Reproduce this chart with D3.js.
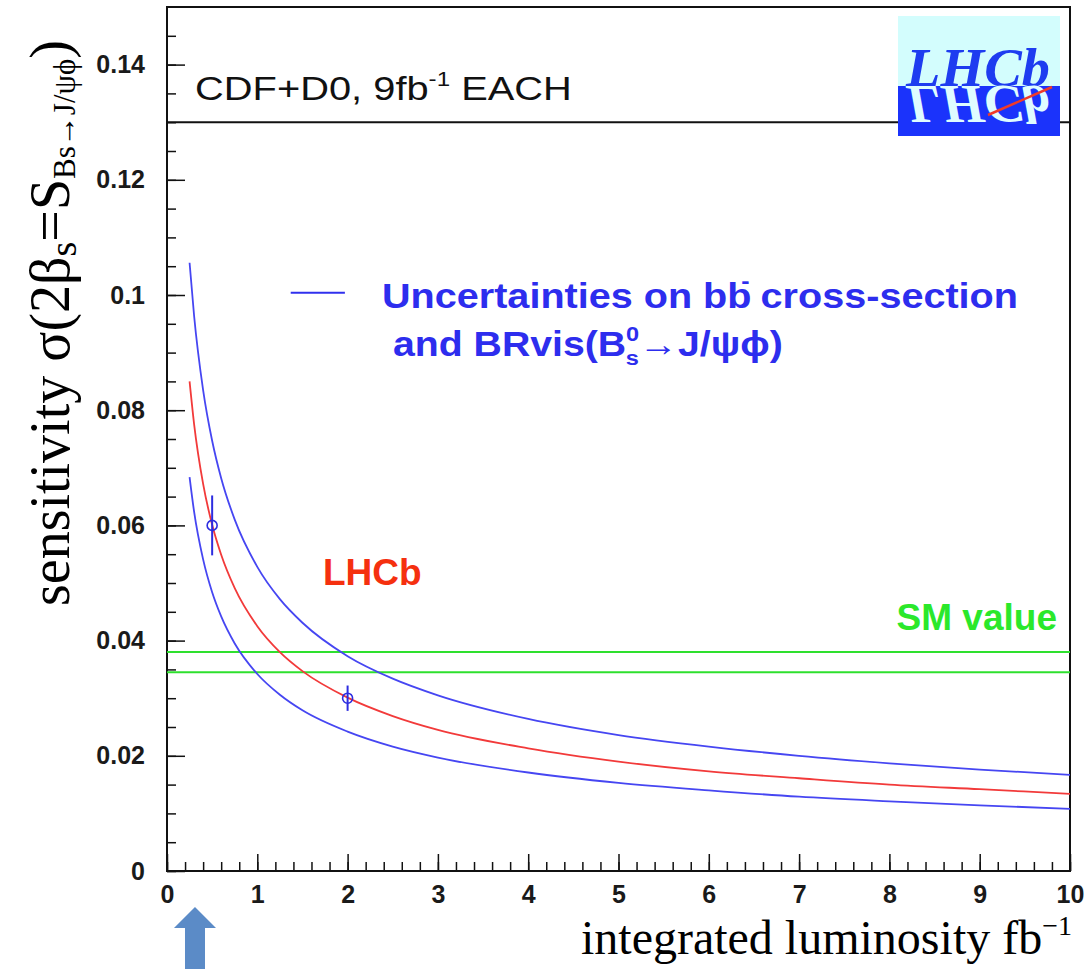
<!DOCTYPE html>
<html>
<head>
<meta charset="utf-8">
<script src="https://cdn.jsdelivr.net/npm/d3@7"></script>
<style>
  body { margin: 0; background: #fff; }
  svg { display: block; }
</style>
</head>
<body>
<div id="chart"></div>
<script>
// values
const lumi = [0.25, 0.3, 0.4, 0.5, 0.6, 0.75, 1, 1.25, 1.5, 2, 2.5, 3, 4, 5, 6, 7, 8, 9, 10];
const lhcbSens = [0.0850, 0.0776, 0.0672, 0.0601, 0.0549, 0.0491, 0.0425, 0.0380, 0.0347, 0.0301, 0.0269, 0.0245, 0.0213, 0.0190, 0.0173, 0.0161, 0.0150, 0.0142, 0.0134];
const upperSens = [0.1056, 0.0964, 0.0835, 0.0747, 0.0682, 0.0610, 0.0528, 0.0472, 0.0431, 0.0373, 0.0334, 0.0305, 0.0264, 0.0236, 0.0216, 0.0200, 0.0187, 0.0176, 0.0167];
const lowerSens = [0.0684, 0.0624, 0.0541, 0.0484, 0.0442, 0.0395, 0.0342, 0.0306, 0.0279, 0.0242, 0.0216, 0.0197, 0.0171, 0.0153, 0.0140, 0.0129, 0.0121, 0.0114, 0.0108];

const markers = [
  { x: 0.5, y: 0.060, err: 0.0052 },
  { x: 2, y: 0.030, err: 0.0022 },
];
const smValues = [0.038, 0.0345];
const cdfValue = 0.13;
const arrowX = 0.31;

const xTicks = [0, 1, 2, 3, 4, 5, 6, 7, 8, 9, 10];
const yTicks = [0, 0.02, 0.04, 0.06, 0.08, 0.1, 0.12, 0.14];

const width = 1090;
const height = 969;
const margin = { top: 7, right: 20, bottom: 98, left: 167 };
const innerWidth = width - margin.left - margin.right;
const innerHeight = height - margin.top - margin.bottom;

const svg = d3.select("#chart").append("svg")
  .attr("width", width)
  .attr("height", height);

const g = svg.append("g")
  .attr("transform", `translate(${margin.left},${margin.top})`);

const x = d3.scaleLinear().domain([0, 10]).range([0, innerWidth]);
const y = d3.scaleLinear().domain([0, 0.15]).range([innerHeight, 0]);

const sans = "'Liberation Sans', Arial, sans-serif";
const serif = "'Liberation Serif', 'Times New Roman', serif";

// the scanned original is stretched sideways, so squeeze/stretch text to a width
function fitText(t, x0, baseline, w) {
  const bw = t.node().getBBox().width;
  t.attr("transform", `translate(${x0},${baseline}) scale(${w / bw},1)`);
}

// minor ticks first
g.append("g")
  .call(d3.axisLeft(y).tickValues(d3.range(0, 0.1451, 0.005)).tickSize(-9).tickFormat(""))
  .call((a) => a.select(".domain").remove())
  .call((a) => a.selectAll("text").remove())
  .call((a) => a.selectAll("line").attr("stroke", "#111").attr("stroke-width", 1.5));

g.append("g")
  .attr("transform", `translate(0,${innerHeight})`)
  .call(d3.axisBottom(x).tickValues(d3.range(0, 10.01, 0.2)).tickSize(-9).tickFormat(""))
  .call((a) => a.select(".domain").remove())
  .call((a) => a.selectAll("text").remove())
  .call((a) => a.selectAll("line").attr("stroke", "#111").attr("stroke-width", 1.5));

// major ticks + labels
g.append("g")
  .call(d3.axisLeft(y).tickValues(yTicks).tickSize(-18).tickPadding(22)
    .tickFormat((d) => (d === 0 ? "0" : String(+d.toFixed(2)))))
  .call((a) => a.select(".domain").remove())
  .call((a) => a.selectAll("line").attr("stroke", "#111").attr("stroke-width", 1.5))
  .call((a) => a.selectAll("text")
    .attr("font-family", sans).attr("font-weight", "bold")
    .attr("font-size", 25).attr("fill", "#1a1a1a"));

g.append("g")
  .attr("transform", `translate(0,${innerHeight})`)
  .call(d3.axisBottom(x).tickValues(xTicks).tickSize(-17).tickPadding(14))
  .call((a) => a.select(".domain").remove())
  .call((a) => a.selectAll("line").attr("stroke", "#111").attr("stroke-width", 1.5))
  .call((a) => a.selectAll("text")
    .attr("font-family", sans).attr("font-weight", "bold")
    .attr("font-size", 25).attr("fill", "#1a1a1a"));

// frame
g.append("rect")
  .attr("width", innerWidth)
  .attr("height", innerHeight)
  .attr("fill", "none")
  .attr("stroke", "#111")
  .attr("stroke-width", 2);

// CDF+D0 line
g.append("line")
  .attr("x1", 0).attr("x2", innerWidth)
  .attr("y1", y(cdfValue)).attr("y2", y(cdfValue))
  .attr("stroke", "#111").attr("stroke-width", 2);

const cdf = svg.append("text")
  .attr("font-family", sans)
  .attr("font-size", 33)
  .attr("fill", "#111")
  .call((t) => {
    t.append("tspan").text("CDF+D0, 9fb");
    t.append("tspan").attr("font-size", 20).attr("dy", -14).text("-1");
    t.append("tspan").attr("dy", 14).text(" EACH");
  });
fitText(cdf, 195, 100, 377);

// SM value band lines
g.selectAll("line.sm")
  .data(smValues)
  .join("line")
  .attr("class", "sm")
  .attr("x1", 0).attr("x2", innerWidth)
  .attr("y1", (d) => y(d)).attr("y2", (d) => y(d))
  .attr("stroke", "#2ee02e").attr("stroke-width", 2);

// curves
const series = [
  { name: "upper", values: upperSens, color: "#4646f2" },
  { name: "lower", values: lowerSens, color: "#4646f2" },
  { name: "lhcb", values: lhcbSens, color: "#f23a3a" },
];

const line = d3.line()
  .x((d) => x(d[0]))
  .y((d) => y(d[1]))
  .curve(d3.curveMonotoneX);

g.selectAll("path.series")
  .data(series)
  .join("path")
  .attr("class", "series")
  .attr("fill", "none")
  .attr("stroke", (d) => d.color)
  .attr("stroke-width", 1.8)
  .attr("d", (d) => line(lumi.map((l, i) => [l, d.values[i]])));

// markers with error bars
const mk = g.selectAll("g.marker")
  .data(markers)
  .join("g")
  .attr("class", "marker");

mk.append("line")
  .attr("x1", (d) => x(d.x)).attr("x2", (d) => x(d.x))
  .attr("y1", (d) => y(d.y + d.err)).attr("y2", (d) => y(d.y - d.err))
  .attr("stroke", "#2d2de0").attr("stroke-width", 2);

mk.append("circle")
  .attr("cx", (d) => x(d.x)).attr("cy", (d) => y(d.y))
  .attr("r", 5)
  .attr("fill", "none")
  .attr("stroke", "#2d2de0")
  .attr("stroke-width", 1.6);

// legend
g.append("line")
  .attr("x1", x(1.37)).attr("x2", x(1.97))
  .attr("y1", y(0.1004)).attr("y2", y(0.1004))
  .attr("stroke", "#3030ee").attr("stroke-width", 2);

const leg1 = svg.append("text")
  .attr("font-family", sans)
  .attr("font-weight", "bold")
  .attr("font-size", 35)
  .attr("fill", "#2d2dee")
  .call((t) => {
    t.append("tspan").text("Uncertainties on bb");
    t.append("tspan").attr("font-size", 22).attr("dx", -9).attr("dy", -20).text("-");
    t.append("tspan").attr("dy", 20).text(" cross-section");
  });
fitText(leg1, 382, 308, 636);

const leg2 = svg.append("text")
  .attr("font-family", sans)
  .attr("font-weight", "bold")
  .attr("font-size", 35)
  .attr("fill", "#2d2dee")
  .call((t) => {
    t.append("tspan").text("and BRvis(B");
    t.append("tspan").attr("font-size", 21).attr("dy", -15).text("0");
    t.append("tspan").attr("font-size", 21).attr("dx", -12).attr("dy", 24).text("s");
    t.append("tspan").attr("dy", -9).text("\u2192J/\u03c8\u03d5)");
  });
fitText(leg2, 393, 356, 390);

svg.append("text")
  .attr("x", 323)
  .attr("y", 585)
  .attr("font-family", sans)
  .attr("font-weight", "bold")
  .attr("font-size", 37)
  .attr("fill", "#f5300f")
  .text("LHCb");

svg.append("text")
  .attr("x", 1057)
  .attr("y", 630)
  .attr("text-anchor", "end")
  .attr("font-family", sans)
  .attr("font-weight", "bold")
  .attr("font-size", 37)
  .attr("fill", "#2be82b")
  .text("SM value");

// LHCb logo
const logo = svg.append("g").attr("transform", "translate(898,16)");
logo.append("rect").attr("width", 162).attr("height", 70).attr("fill", "#d3fdfd");
logo.append("rect").attr("y", 70).attr("width", 162).attr("height", 50).attr("fill", "#1b33fb");
logo.append("text")
  .attr("x", 8).attr("y", 70)
  .attr("font-family", serif)
  .attr("font-style", "italic")
  .attr("font-weight", "bold")
  .attr("font-size", 54)
  .attr("fill", "#1e3cf0")
  .attr("textLength", 144)
  .attr("lengthAdjust", "spacingAndGlyphs")
  .text("LHCb");
logo.append("text")
  .attr("transform", "translate(0,140) scale(1,-1)")
  .attr("x", 8).attr("y", 70)
  .attr("font-family", serif)
  .attr("font-style", "italic")
  .attr("font-weight", "bold")
  .attr("font-size", 54)
  .attr("fill", "#dffcff")
  .attr("textLength", 144)
  .attr("lengthAdjust", "spacingAndGlyphs")
  .text("LHCb");
logo.append("line")
  .attr("x1", 90).attr("y1", 99).attr("x2", 154).attr("y2", 71)
  .attr("stroke", "#f03a2a").attr("stroke-width", 2.5);

// axis titles
svg.append("text")
  .attr("transform", "translate(69,606) rotate(-90)")
  .attr("font-family", serif)
  .attr("font-size", 56)
  .attr("fill", "#000")
  .call((t) => {
    t.append("tspan").text("sensitivity \u03c3(2\u03b2");
    t.append("tspan").attr("font-size", 38).attr("dy", 7).text("s");
    t.append("tspan").attr("dy", -7).text("=S");
    t.append("tspan").attr("font-size", 31).attr("dy", 6).text("Bs\u2192J/\u03c8\u03d5");
    t.append("tspan").attr("dy", -6).text(")");
  });

svg.append("text")
  .attr("x", 1072)
  .attr("y", 954)
  .attr("text-anchor", "end")
  .attr("font-family", serif)
  .attr("font-size", 48)
  .attr("fill", "#000")
  .call((t) => {
    t.append("tspan").text("integrated luminosity fb");
    t.append("tspan").attr("font-size", 28).attr("dy", -19).text("\u22121");
  });

// arrow pointing at the luminosity axis
const ax = margin.left + x(arrowX);
svg.append("path")
  .attr("d", `M${ax},907 L${ax + 21},928 L${ax + 10},928 L${ax + 10},969 L${ax - 10},969 L${ax - 10},928 L${ax - 21},928 Z`)
  .attr("fill", "#5b8bc7");
</script>
</body>
</html>
